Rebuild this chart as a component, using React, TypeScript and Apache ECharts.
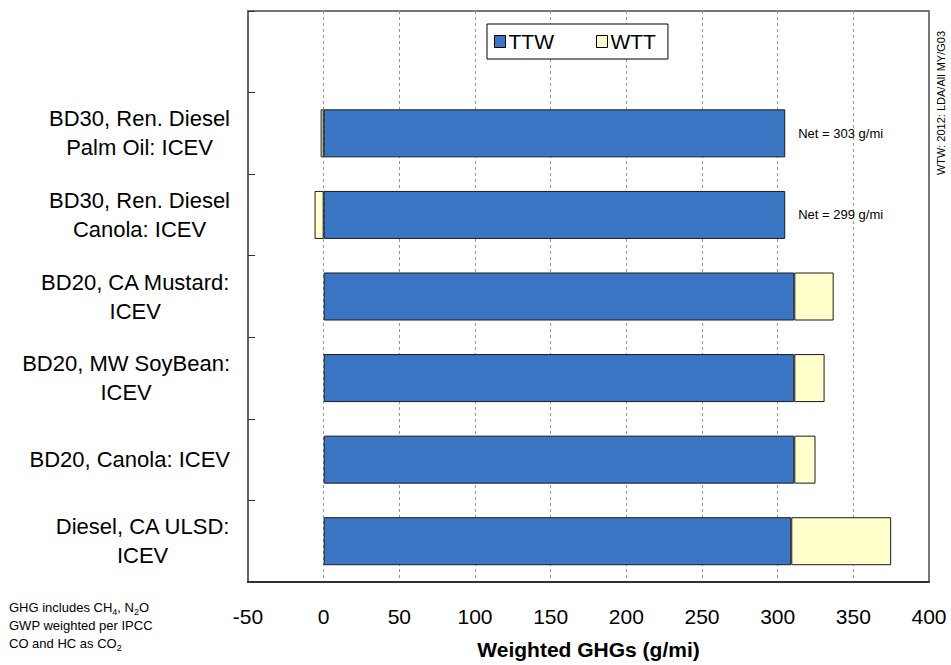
import React, { useEffect, useRef } from "react";
import * as echarts from "echarts";

const categories = [
  "Diesel, CA ULSD:\nICEV",
  "BD20, Canola: ICEV",
  "BD20, MW SoyBean:\nICEV",
  "BD20, CA Mustard:\nICEV",
  "BD30, Ren. Diesel\nCanola: ICEV",
  "BD30, Ren. Diesel\nPalm Oil: ICEV",
  "",
];
const ttwValues = [309, 311, 311, 311, 305, 305, null];
const wttValues = [66, 14, 20, 26, -6, -2, null];
const showNet = [false, false, false, false, true, true, false];
const xTicks = { min: -50, max: 400, interval: 50 };
const seriesNames = ["TTW", "WTT"];
const noteLines = ["GHG includes CH{s|4}, N{s|2}O", "GWP weighted per IPCC", "CO and HC as CO{s|2}"];
const sideNote = "WTW: 2012: LDA/All MY/G03";

const FONT = "'Liberation Sans', Arial, sans-serif";

export default function App() {
  const ref = useRef<HTMLDivElement>(null);
  useEffect(() => {
    if (!ref.current) return;
    const chart = echarts.init(ref.current, undefined, { renderer: "svg" });
    const ttwData = ttwValues.map((v, i) => {
      if (v === null) return "-";
      if (!showNet[i]) return v;
      const net = (v as number) + (wttValues[i] as number);
      return {
        value: v,
        label: {
          show: true,
          position: "right",
          distance: 13,
          formatter: `Net = ${net} g/mi`,
          fontSize: 13,
          color: "#000",
          fontFamily: FONT,
        },
      };
    });
    const wttData = wttValues.map((v) => (v === null ? "-" : v));
    chart.setOption({
      animation: false,
      backgroundColor: "#fff",
      textStyle: { fontFamily: FONT },
      grid: {
        left: 248,
        right: 22,
        top: 11,
        bottom: 82,
        show: true,
        borderColor: "#777",
        borderWidth: 2,
        backgroundColor: "transparent",
      },
      legend: {
        data: seriesNames,
        left: 487,
        top: 24,
        orient: "horizontal",
        icon: "rect",
        borderColor: "#000",
        borderWidth: 1,
        backgroundColor: "#fff",
        padding: [7, 12, 7, 7],
        itemGap: 42,
        itemWidth: 11,
        itemHeight: 12,
        itemStyle: { borderColor: "#000", borderWidth: 1 },
        textStyle: { fontSize: 21, color: "#000", fontFamily: FONT, padding: [0, 0, 0, -2] },
      },
      xAxis: {
        type: "value",
        min: xTicks.min,
        max: xTicks.max,
        interval: xTicks.interval,
        name: "Weighted GHGs (g/mi)",
        nameLocation: "middle",
        nameGap: 57,
        nameTextStyle: { fontSize: 21, fontWeight: "bold", color: "#000", fontFamily: FONT },
        axisLine: { show: true, onZero: false, lineStyle: { color: "#333", width: 2 } },
        axisTick: { show: false },
        axisLabel: { fontSize: 21, color: "#000", margin: 24, fontFamily: FONT },
        splitLine: {
          show: true,
          showMinLine: false,
          showMaxLine: false,
          lineStyle: { color: "#999", width: 1, type: [3, 3] },
        },
      },
      yAxis: {
        type: "category",
        data: categories,
        axisLine: { show: true, onZero: false, lineStyle: { color: "#666", width: 2 } },
        axisTick: { show: true, inside: true, length: 7, lineStyle: { color: "#333", width: 1 } },
        axisLabel: {
          margin: 18,
          color: "#000",
          formatter: (v: string) =>
            v
              .split("\n")
              .map((l) => `{c|${l}}`)
              .join("\n"),
          rich: { c: { align: "center", fontSize: 22, lineHeight: 29, fontFamily: FONT, color: "#000" } },
        },
        splitLine: { show: false },
      },
      series: [
        {
          name: seriesNames[0],
          type: "bar",
          stack: "total",
          barWidth: 48,
          data: ttwData,
          itemStyle: { color: "#3A76C4", borderColor: "#1a1a1a", borderWidth: 1 },
          z: 3,
        },
        {
          name: seriesNames[1],
          type: "bar",
          stack: "total",
          barWidth: 48,
          data: wttData,
          itemStyle: { color: "#FFFFCC", borderColor: "#1a1a1a", borderWidth: 1 },
          z: 2,
        },
      ],
      graphic: [
        {
          type: "text",
          left: 9,
          top: 598,
          style: {
            text: noteLines.join("\n"),
            fontSize: 13,
            lineHeight: 18,
            fill: "#000",
            fontFamily: FONT,
            rich: {
              s: { fontSize: 9, verticalAlign: "bottom", lineHeight: 18, padding: [5, 0, 0, 0], fontFamily: FONT },
            },
          } as any,
        },
        {
          type: "text",
          x: 941,
          y: 103,
          rotation: Math.PI / 2,
          style: {
            text: sideNote,
            fontSize: 11,
            fill: "#000",
            fontFamily: FONT,
            align: "center",
            verticalAlign: "middle",
          },
        },
      ],
    });
    return () => chart.dispose();
  }, []);
  return (
    <div
      ref={ref}
      style={{ position: "fixed", left: 0, top: 0, width: 951, height: 665, background: "#fff" }}
    />
  );
}
